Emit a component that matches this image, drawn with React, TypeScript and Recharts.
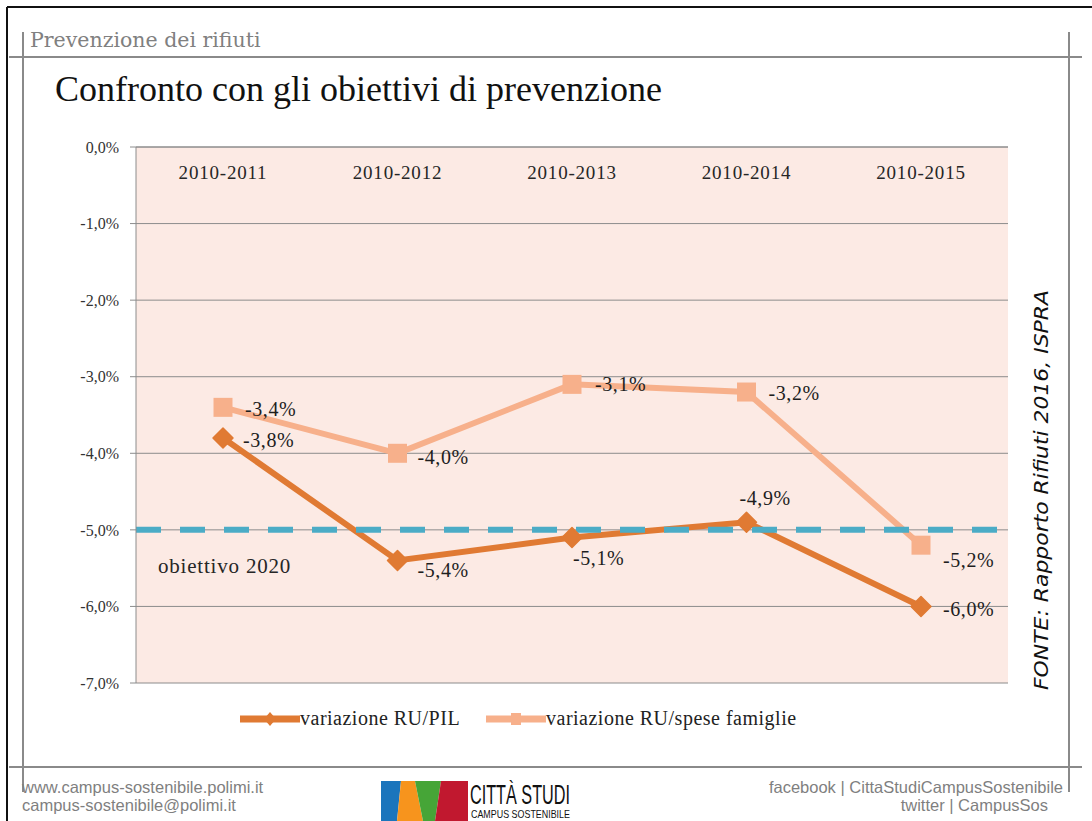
import React from 'react';
import { LineChart, Line, XAxis, YAxis, CartesianGrid, ReferenceLine, Legend, LabelList } from 'recharts';

// ---- data ----
const categories = ['2010-2011', '2010-2012', '2010-2013', '2010-2014', '2010-2015'];
const ruPil = [-3.8, -5.4, -5.1, -4.9, -6.0];
const ruSpese = [-3.4, -4.0, -3.1, -3.2, -5.2];
const yTicks = [0, -1, -2, -3, -4, -5, -6, -7];
const target2020 = -5.0;
const seriesNames = ['variazione RU/PIL', 'variazione RU/spese famiglie'];

const data = categories.map((c, i) => ({ cat: c, pil: ruPil[i], spese: ruSpese[i] }));

// ---- styles ----
const W = 1092;
const H = 821;
const serif = '"Liberation Serif", "Times New Roman", serif';
const sans = '"Liberation Sans", Arial, sans-serif';
const PIL_COLOR = '#e07a33';
const SPESE_COLOR = '#f7b08b';
const TARGET_COLOR = '#4bacc6';
const GRID = '#8c8c8c';
const PLOT_BG = '#fceae4';

const pilLabelOffsets = [[20, 9], [20, 17], [1, 27], [-7, -17], [22, 10]];
const speseLabelOffsets = [[22, 9], [20, 11], [23, 7], [22, 8], [22, 22]];

const fmt = (v: number) => v.toFixed(1).replace('.', ',') + '%';

const Diamond = (props: any) => {
  const { cx, cy } = props;
  if (cx == null || cy == null) return null;
  const r = 10;
  return (
    <polygon
      points={`${cx},${cy - r} ${cx + r},${cy} ${cx},${cy + r} ${cx - r},${cy}`}
      fill={PIL_COLOR}
      stroke={PIL_COLOR}
      strokeWidth={1.5}
      strokeLinejoin="round"
    />
  );
};

const Square = (props: any) => {
  const { cx, cy } = props;
  if (cx == null || cy == null) return null;
  const s = 19;
  return <rect x={cx - s / 2} y={cy - s / 2} width={s} height={s} fill={SPESE_COLOR} />;
};

const makeLabel = (offsets: number[][]) => (p: any) => {
  const { x, y, value, index } = p;
  const o = offsets[index] || [20, 6];
  return (
    <text x={x + o[0]} y={y + o[1]} fontFamily={serif} fontSize={20} letterSpacing={0.6} fill="#1e1e1e">
      {fmt(value)}
    </text>
  );
};

const CategoryTick = (p: any) => {
  const { x, y, payload } = p;
  return (
    <text x={x} y={y + 32} textAnchor="middle" fontFamily={serif} fontSize={19} letterSpacing={0.8} fill="#262626">
      {payload.value}
    </text>
  );
};

const TargetLabel = (p: any) => {
  const vb = p.viewBox || {};
  return (
    <text x={vb.x + 22} y={vb.y + 43} fontFamily={serif} fontSize={21} letterSpacing={0.8} fill="#262626">
      obiettivo 2020
    </text>
  );
};

const LegendIcon = ({ color, square }: { color: string; square: boolean }) => (
  <svg width={60} height={14} style={{ display: 'block' }}>
    <line x1={0} y1={7} x2={60} y2={7} stroke={color} strokeWidth={7} />
    {square ? (
      <rect x={25} y={1} width={10} height={12} fill={color} />
    ) : (
      <polygon points="30,0 36,7 30,14 24,7" fill={color} />
    )}
  </svg>
);

const LegendContent = () => (
  <div style={{ position: 'relative', width: W, height: 30 }}>
    <div style={{ position: 'absolute', left: 240, top: 0, display: 'flex', alignItems: 'center' }}>
      <LegendIcon color={PIL_COLOR} square={false} />
      <span style={{ fontFamily: serif, fontSize: 20, letterSpacing: 0.5, color: '#222' }}>{seriesNames[0]}</span>
    </div>
    <div style={{ position: 'absolute', left: 486, top: 0, display: 'flex', alignItems: 'center' }}>
      <LegendIcon color={SPESE_COLOR} square={true} />
      <span style={{ fontFamily: serif, fontSize: 20, letterSpacing: 0.5, color: '#222' }}>{seriesNames[1]}</span>
    </div>
  </div>
);

export default function App() {
  return (
    <div style={{ position: 'absolute', left: 0, top: 0, width: W, height: H, background: '#fff', overflow: 'hidden' }}>
      <LineChart
        width={W}
        height={H}
        data={data}
        margin={{ top: 117, right: 84, bottom: 138, left: 76 }}
        style={{ position: 'absolute', left: 0, top: 0 }}
      >
        <CartesianGrid vertical={false} stroke={GRID} fill={PLOT_BG} />
        <XAxis
          dataKey="cat"
          orientation="top"
          height={30}
          padding={{ left: 87, right: 87 }}
          axisLine={{ stroke: GRID }}
          tickLine={false}
          tickSize={0}
          tickMargin={0}
          tick={<CategoryTick />}
          interval={0}
        />
        <YAxis
          type="number"
          domain={[-7, 0]}
          ticks={yTicks}
          width={60}
          axisLine={{ stroke: GRID }}
          tickLine={{ stroke: GRID }}
          tickSize={6}
          tickMargin={11}
          tickFormatter={fmt}
          tick={{ fontFamily: serif, fontSize: 16, fill: '#333' }}
          interval={0}
        />
        <Legend
          layout="horizontal"
          verticalAlign="middle"
          align="center"
          wrapperStyle={{ top: 707, left: 0, width: W }}
          content={<LegendContent />}
        />
        <Line
          type="linear"
          dataKey="spese"
          name={seriesNames[1]}
          stroke={SPESE_COLOR}
          strokeWidth={6}
          dot={<Square />}
          activeDot={false}
          isAnimationActive={false}
        >
          <LabelList dataKey="spese" content={makeLabel(speseLabelOffsets)} />
        </Line>
        <Line
          type="linear"
          dataKey="pil"
          name={seriesNames[0]}
          stroke={PIL_COLOR}
          strokeWidth={6}
          dot={<Diamond />}
          activeDot={false}
          isAnimationActive={false}
        >
          <LabelList dataKey="pil" content={makeLabel(pilLabelOffsets)} />
        </Line>
        <ReferenceLine
          y={target2020}
          stroke={TARGET_COLOR}
          strokeWidth={6}
          strokeDasharray="25 19"
          label={<TargetLabel />}
        />
      </LineChart>

      <svg width={W} height={H} style={{ position: 'absolute', left: 0, top: 0, pointerEvents: 'none' }}>
        {/* slide frame */}
        <line x1={7} y1={7} x2={W} y2={7} stroke="#111" strokeWidth={2} />
        <line x1={7} y1={7} x2={7} y2={H} stroke="#111" strokeWidth={2} />
        {/* gray guide lines */}
        <line x1={9} y1={57} x2={1082} y2={57} stroke="#8a8a8a" strokeWidth={2} />
        <line x1={9} y1={767} x2={1082} y2={767} stroke="#8a8a8a" strokeWidth={2} />
        <line x1={23} y1={32} x2={23} y2={792} stroke="#8a8a8a" strokeWidth={2} />
        <line x1={1069} y1={32} x2={1069} y2={792} stroke="#8a8a8a" strokeWidth={2} />
        {/* header */}
        <text x={30} y={47} fontFamily={'"DejaVu Serif", serif'} fontSize={20.5} fill="#808080">Prevenzione dei rifiuti</text>
        <text x={55} y={101} fontFamily={serif} fontSize={36} fill="#111">Confronto con gli obiettivi di prevenzione</text>
        {/* source */}
        <text
          transform="translate(1048,490) rotate(-90)"
          textAnchor="middle"
          fontFamily={'"DejaVu Sans", sans-serif'}
          fontStyle="italic"
          fontSize={19}
          fill="#111"
          textLength={400}
          lengthAdjust="spacingAndGlyphs"
        >
          FONTE: Rapporto Rifiuti 2016, ISPRA
        </text>
        {/* footer */}
        <text x={22} y={793} fontFamily={sans} fontSize={16.5} fill="#7f7f7f">www.campus-sostenibile.polimi.it</text>
        <text x={22} y={811} fontFamily={sans} fontSize={16.5} fill="#7f7f7f">campus-sostenibile@polimi.it</text>
        <text x={1063} y={793} textAnchor="end" fontFamily={sans} fontSize={16.5} fill="#7f7f7f">facebook | CittaStudiCampusSostenibile</text>
        <text x={1048} y={811} textAnchor="end" fontFamily={sans} fontSize={16.5} fill="#7f7f7f">twitter | CampusSos</text>
        {/* logo */}
        <polygon points="381,781 401,781 397,821 381,821" fill="#1b75bc" />
        <polygon points="401,781 415,781 423,821 397,821" fill="#f7941d" />
        <polygon points="415,781 441,781 435,821 423,821" fill="#46a537" />
        <polygon points="441,781 468,781 468,821 435,821" fill="#c1182f" />
        <text x={470} y={804} fontFamily={sans} fontSize={27} fill="#111" textLength={100} lengthAdjust="spacingAndGlyphs">CITTÀ STUDI</text>
        <text x={471} y={818} fontFamily={sans} fontSize={11} fill="#111" textLength={99} lengthAdjust="spacingAndGlyphs">CAMPUS SOSTENIBILE</text>
      </svg>
    </div>
  );
}
